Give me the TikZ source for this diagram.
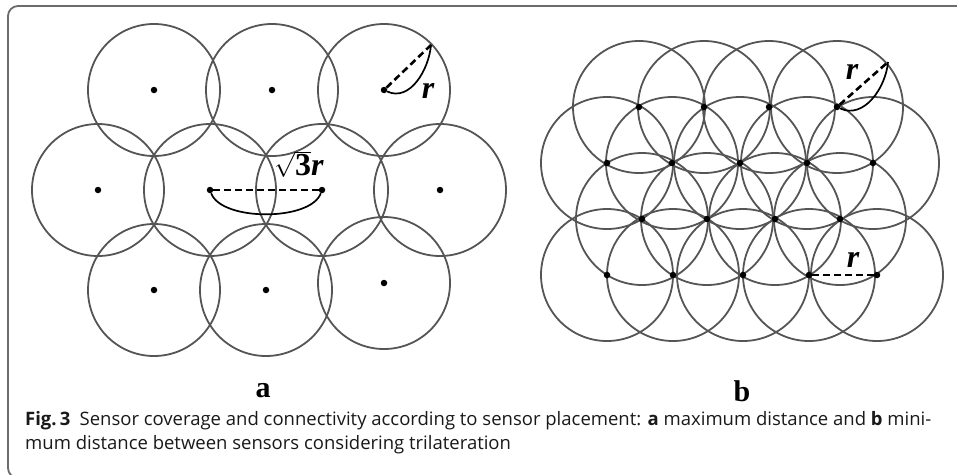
\documentclass[tikz,border=0pt]{standalone}
\usepackage{fontspec}
\setmainfont{Liberation Serif}
\newfontfamily\capfont{Open Sans}
\usetikzlibrary{backgrounds}

\definecolor{ringgray}{HTML}{555555}
\definecolor{framegray}{HTML}{6B6B6B}

\tikzset{
  sensor/.style={circle,fill=black,inner sep=0pt,minimum size=6.5pt},
  cover/.style={draw=ringgray,line width=1.8pt},
  rline/.style={line width=2.6pt,dash pattern=on 7pt off 4pt},
  rarc/.style={line width=1.7pt},
  rlabel/.style={font=\fontsize{32}{32}\selectfont\bfseries\itshape,inner sep=0pt},
  panel/.style={font=\fontsize{30}{30}\selectfont\bfseries,inner sep=0pt},
  capline/.style={font=\capfont\fontsize{18.5}{24}\selectfont,anchor=base west,inner sep=0pt,text=black!90}
}

\begin{document}
\begin{tikzpicture}[x=1pt,y=-1pt]
  \useasboundingbox (0,0) rectangle (957,474);
  % frame, cut by the page
  \begin{scope}
    \clip (0,0) rectangle (957,474);
    \draw[draw=framegray,line width=1.8pt,rounded corners=10pt] (8,6) rectangle (985,478);
  \end{scope}

  % (a) maximum distance: sensors sqrt(3)r apart
  \node[sensor] (a1) at (154,90) {};
  \node[sensor] (a2) at (272,90) {};
  \node[sensor] (a3) at (384,90) {};
  \node[sensor] (a4) at (98,190) {};
  \node[sensor] (a5) at (210,190) {};
  \node[sensor] (a6) at (322,190) {};
  \node[sensor] (a7) at (440,190) {};
  \node[sensor] (a8) at (154,290) {};
  \node[sensor] (a9) at (266,290) {};
  \node[sensor] (a10) at (384,283) {};

  % (b) minimum distance: sensors r apart
  \node[sensor] (b1) at (639,107) {};
  \node[sensor] (b2) at (704,107) {};
  \node[sensor] (b3) at (769,107) {};
  \node[sensor] (b4) at (837,107) {};
  \node[sensor] (b5) at (607,163) {};
  \node[sensor] (b6) at (672,163) {};
  \node[sensor] (b7) at (740,163) {};
  \node[sensor] (b8) at (807,163) {};
  \node[sensor] (b9) at (873,163) {};
  \node[sensor] (b10) at (642,219) {};
  \node[sensor] (b11) at (707,219) {};
  \node[sensor] (b12) at (775,219) {};
  \node[sensor] (b13) at (840,219) {};
  \node[sensor] (b14) at (607,275) {};
  \node[sensor] (b15) at (673,275) {};
  \node[sensor] (b16) at (743,275) {};
  \node[sensor] (b17) at (809,275) {};
  \node[sensor] (b18) at (877,275) {};

  \begin{pgfonlayer}{background}
    \foreach \i in {1,...,10} \draw[cover] (a\i) circle[radius=66pt];
    \foreach \i in {1,...,18} \draw[cover] (b\i) circle[radius=66pt];
  \end{pgfonlayer}

  % radius and spacing marks
  \coordinate (ra) at (431,45);
  \coordinate (rb) at (888,62);
  \draw[rline] (a3) -- (ra);
  \draw[rarc] (a3) to[out=-25,in=-95] (ra);
  \node[rlabel] (ralab) at (428,91) {r};
  \draw[rline] (a5) -- (a6);
  \draw[rarc] (a5) to[out=-70,in=-110,looseness=0.7] (a6);
  \node[rlabel] (sqlab) at (299,164) {{\upshape$\sqrt{\mbox{\bfseries 3}}$}r};
  \draw[rline] (b4) -- (rb);
  \draw[rarc] (b4) to[out=-25,in=-95] (rb);
  \node[rlabel] (rblab) at (852,72) {r};
  \draw[rline] (b17) -- (b18);
  \node[rlabel] (rclab) at (853,260) {r};

  \node[panel] (pa) at (263,391) {a};
  \node[panel] (pb) at (742,391) {b};

  \node[capline] (cap1) at (25,425) {{\bfseries Fig.\,3}\enspace Sensor coverage and connectivity according to sensor placement: {\bfseries a} maximum distance and {\bfseries b} mini-};
  \node[capline] (cap2) at (25,449) {mum distance between sensors considering trilateration};
\end{tikzpicture}
\end{document}
